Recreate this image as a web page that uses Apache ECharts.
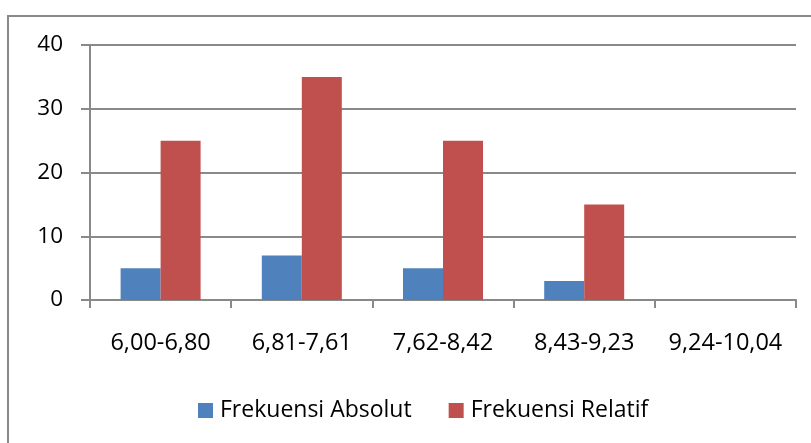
<!DOCTYPE html>
<html>
<head>
<meta charset="utf-8">
<script src="https://cdn.jsdelivr.net/npm/echarts@6/dist/echarts.min.js"></script>
<style>
html,body{margin:0;padding:0;background:#fff;}
#c{width:811px;height:443px;}
</style>
</head>
<body>
<div id="c"></div>
<script>
var categories = ['6,00-6,80', '6,81-7,61', '7,62-8,42', '8,43-9,23', '9,24-10,04'];
var absolut = [5, 7, 5, 3, 0];
var relatif = [25, 35, 25, 15, 0];
var seriesNames = ['Frekuensi Absolut', 'Frekuensi Relatif'];
var yTicks = [0, 10, 20, 30, 40];

var lineColor = '#898989';
var font = 'Open Sans';
var chart = echarts.init(document.getElementById('c'), null, {renderer: 'canvas'});
chart.setOption({
  animation: false,
  backgroundColor: '#ffffff',
  textStyle: {fontFamily: font, color: '#000'},
  graphic: [{
    type: 'polyline',
    shape: {points: [[8, 470], [8, 16], [840, 16]]},
    style: {stroke: lineColor, lineWidth: 2, fill: null},
    silent: true
  }],
  grid: {left: 90, right: 15, top: 45, bottom: 143, containLabel: false},
  legend: {
    data: seriesNames,
    bottom: 16,
    left: 193,
    itemWidth: 15,
    itemHeight: 15,
    itemGap: 37,
    icon: 'rect',
    textStyle: {fontFamily: font, fontSize: 23, color: '#000', padding: [0, 0, 0, 2]}
  },
  xAxis: {
    type: 'category',
    data: categories,
    boundaryGap: true,
    axisLine: {show: true, lineStyle: {color: lineColor, width: 2}},
    axisTick: {show: true, length: 8, alignWithLabel: false, lineStyle: {color: lineColor, width: 2}},
    axisLabel: {fontFamily: font, fontSize: 23.5, color: '#000', margin: 31, interval: 0},
    splitLine: {show: false}
  },
  yAxis: {
    type: 'value',
    min: yTicks[0],
    max: yTicks[yTicks.length - 1],
    interval: yTicks[1] - yTicks[0],
    axisLine: {show: true, lineStyle: {color: lineColor, width: 2}},
    axisTick: {show: true, length: 9, lineStyle: {color: lineColor, width: 2}},
    axisLabel: {fontFamily: font, fontSize: 22.5, color: '#000', margin: 27},
    splitLine: {show: true, lineStyle: {color: lineColor, width: 2}}
  },
  series: [
    {name: seriesNames[0], type: 'bar', data: absolut, barWidth: 40, barGap: '0%',
     itemStyle: {color: '#4F81BD'}},
    {name: seriesNames[1], type: 'bar', data: relatif, barWidth: 40, barGap: '0%',
     itemStyle: {color: '#C0504D'}}
  ]
});
</script>
</body>
</html>
